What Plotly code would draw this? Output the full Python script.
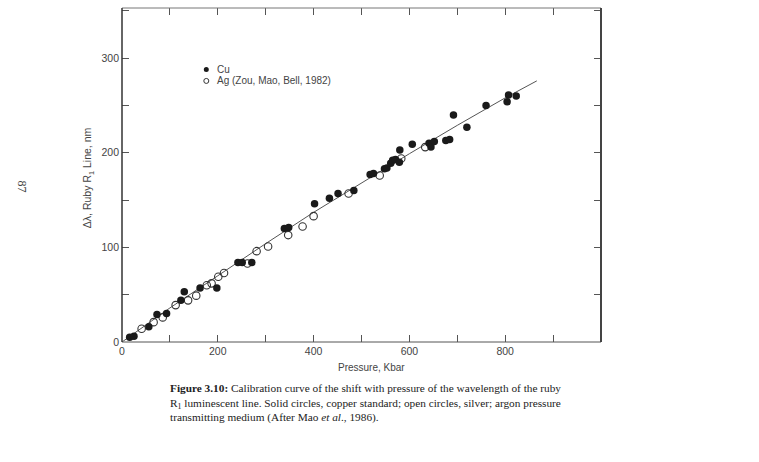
import plotly.graph_objects as go

# Cu (solid circles): pressure (Kbar), shift
cu_p = [16, 25, 56, 73, 93, 123, 130, 163, 198, 242, 251, 271, 339, 348, 402, 433, 451,
        484, 518, 525, 548, 553, 561, 565, 571, 579, 580, 606, 641, 645, 652, 676, 684,
        692, 720, 760, 804, 807, 823]
cu_d = [5, 6, 16, 29, 30, 44, 53, 57, 57, 84, 84, 84, 120, 121, 146, 152, 157,
        160, 177, 178, 183, 184, 189, 192, 193, 190, 203, 209, 210, 206, 212, 213, 214,
        240, 227, 250, 254, 261, 260]

# Ag (open circles)
ag_p = [41, 66, 85, 112, 138, 155, 177, 187, 201, 213, 262, 281, 305, 347, 377, 400,
        473, 538, 583, 633]
ag_d = [14, 21, 26, 39, 44, 49, 60, 62, 69, 73, 83, 96, 101, 113, 122, 133,
        157, 176, 194, 206]

# calibration curve
fit_p = [0, 100, 200, 300, 400, 500, 600, 700, 800, 866]
fit_d = [0, 36, 70, 104, 137, 168, 199, 229, 258, 276]

x_tickvals = [0, 100, 200, 300, 400, 500, 600, 700, 800, 900]
x_ticktext = ["0", "", "200", "", "400", "", "600", "", "800", ""]
y_tickvals = [0, 50, 100, 150, 200, 250, 300, 350]
y_ticktext = ["0", "", "100", "", "200", "", "300", ""]

W, H = 759, 462
L, R, T, B = 121.7, 600.7, 8.0, 342.3


def px(x):
    return (x - L) / (R - L)


def py(y):
    return (B - y) / (B - T)


fig = go.Figure()
fig.add_trace(go.Scatter(x=fit_p, y=fit_d, mode="lines",
                         line=dict(color="#555555", width=1), showlegend=False,
                         hoverinfo="skip"))
fig.add_trace(go.Scatter(x=ag_p, y=ag_d, mode="markers", name="Ag (Zou, Mao, Bell, 1982)",
                         marker=dict(symbol="circle-open", size=7.5, color="#333333",
                                     line=dict(width=1.1, color="#333333")),
                         showlegend=False))
fig.add_trace(go.Scatter(x=cu_p, y=cu_d, mode="markers", name="Cu",
                         marker=dict(symbol="circle", size=7.5, color="#1a1a1a",
                                     line=dict(width=0)),
                         showlegend=False))

sans = "Liberation Sans, Arial, sans-serif"
tick_font = dict(family=sans, size=10.5, color="#444444")
leg_font = dict(family=sans, size=10, color="#444444")

fig.update_xaxes(range=[0, 1000], tickvals=x_tickvals, ticktext=x_ticktext,
                 ticks="inside", ticklen=7, tickwidth=1, tickcolor="#555555",
                 mirror="ticks", showline=False, showgrid=False, zeroline=False,
                 tickfont=tick_font, ticklabelstandoff=1)
fig.update_yaxes(range=[0, 353], tickvals=y_tickvals, ticktext=y_ticktext,
                 ticks="inside", ticklen=7, tickwidth=1, tickcolor="#555555",
                 mirror="ticks", showline=False, showgrid=False, zeroline=False,
                 tickfont=tick_font, ticklabelstandoff=2)

shapes = [
    # frame
    dict(type="line", xref="paper", yref="paper", x0=0, x1=1, y0=0, y1=0,
         line=dict(color="#555555", width=1)),
    dict(type="line", xref="paper", yref="paper", x0=0, x1=1, y0=1, y1=1,
         line=dict(color="#777777", width=1)),
    dict(type="line", xref="paper", yref="paper", x0=0, x1=0, y0=0, y1=1,
         line=dict(color="#333333", width=1.5)),
    dict(type="line", xref="paper", yref="paper", x0=1, x1=1, y0=0, y1=1,
         line=dict(color="#444444", width=2)),
    # legend markers
    dict(type="circle", xref="paper", yref="paper", xsizemode="pixel", ysizemode="pixel",
         xanchor=px(206), yanchor=py(69.5), x0=-2.5, x1=2.5, y0=-2.5, y1=2.5,
         fillcolor="#1a1a1a", line=dict(width=0)),
    dict(type="circle", xref="paper", yref="paper", xsizemode="pixel", ysizemode="pixel",
         xanchor=px(206), yanchor=py(81), x0=-2.5, x1=2.5, y0=-2.5, y1=2.5,
         fillcolor="rgba(0,0,0,0)", line=dict(width=1, color="#333333")),
]

annotations = [
    dict(text="Cu", x=px(215), y=py(69.5), xref="paper", yref="paper",
         xanchor="left", yanchor="middle", showarrow=False, font=leg_font),
    dict(text="Ag (Zou, Mao, Bell, 1982)", x=px(215), y=py(81), xref="paper", yref="paper",
         xanchor="left", yanchor="middle", showarrow=False, font=leg_font),
    dict(text="Pressure, Kbar", x=px(371), y=py(368), xref="paper", yref="paper",
         xanchor="center", yanchor="middle", showarrow=False,
         font=dict(family=sans, size=10, color="#444444")),
    dict(text="Δλ, Ruby R<sub>1</sub> Line, nm", x=px(88), y=py(178), xref="paper",
         yref="paper", xanchor="center", yanchor="middle", textangle=-90, showarrow=False,
         font=dict(family=sans, size=10.5, color="#444444")),
    dict(text="87", x=px(22), y=py(187), xref="paper", yref="paper",
         xanchor="center", yanchor="middle", textangle=90, showarrow=False,
         font=dict(family="Liberation Serif, Times New Roman, serif", size=12, color="#444444")),
    dict(text="<b>Figure 3.10:</b> Calibration curve of the shift with pressure of the wavelength of the ruby<br>"
              "R<sub>1</sub> luminescent line. Solid circles, copper standard; open circles, silver; argon pressure<br>"
              "transmitting medium (After Mao <i>et al</i>., 1986).",
         x=px(168), y=py(380), xref="paper", yref="paper", xanchor="left", yanchor="top",
         align="left", showarrow=False,
         font=dict(family="Liberation Serif, Times New Roman, serif", size=11.3, color="#222222")),
]

fig.update_layout(width=W, height=H, margin=dict(l=L, r=W - R, t=T, b=H - B),
                  paper_bgcolor="white", plot_bgcolor="white",
                  shapes=shapes, annotations=annotations, showlegend=False)

fig.write_html("out.html")
